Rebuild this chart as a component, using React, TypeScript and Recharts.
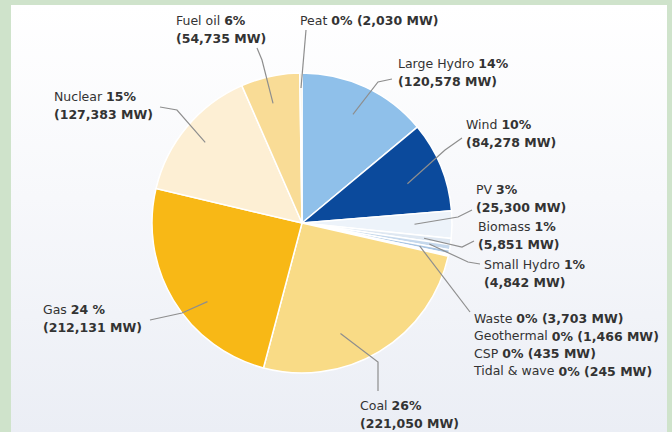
import { PieChart, Pie, Cell } from "recharts";

// installed capacity by source, clockwise from 12 o'clock
const SOURCES = [
  "Large Hydro",
  "Wind",
  "PV",
  "Biomass",
  "Small Hydro",
  "Waste",
  "Geothermal",
  "CSP",
  "Tidal & wave",
  "Coal",
  "Gas",
  "Nuclear",
  "Fuel oil",
  "Peat",
];
const CAPACITY_MW = [120578, 84278, 25300, 5851, 4842, 3703, 1466, 435, 245, 221050, 212131, 127383, 54735, 2030];
const SHARES = ["14%", "10%", "3%", "1%", "1%", "0%", "0%", "0%", "0%", "26%", "24 %", "15%", "6%", "0%"];
const COLORS = [
  "#8fc0ea",
  "#0b4a9c",
  "#edf3fa",
  "#dfe8f2",
  "#c5d8ec",
  "#a8c4e2",
  "#85acd6",
  "#6092c9",
  "#3a72b6",
  "#f9db86",
  "#f8b816",
  "#fdefd4",
  "#f9dc96",
  "#efe4c8",
];

const data = SOURCES.map((name, i) => ({ name, value: CAPACITY_MW[i], share: SHARES[i] }));

type Layout = {
  t: number; // where along the slice the leader starts (0..1)
  r: number; // radius fraction of the leader start
  path: [number, number][]; // leader points, relative to pie centre
  text: [number, number]; // first text line, relative to pie centre
  oneLine?: boolean;
  group?: string[];
};

const LABEL_LAYOUT: Record<string, Layout> = {
  "Large Hydro": { t: 0.5, r: 0.8, path: [[76, -141], [90, -144]], text: [96, -160] },
  Wind: { t: 0.55, r: 0.75, path: [[143, -73], [160, -85]], text: [164, -99] },
  PV: { t: 0.5, r: 0.75, path: [[156, -6], [170, -13]], text: [174, -34] },
  Biomass: { t: 0.5, r: 0.82, path: [[160, 24], [172, 18]], text: [176, 3] },
  "Small Hydro": { t: 0.5, r: 0.86, path: [[166, 39], [178, 41]], text: [182, 41] },
  Waste: {
    t: 0.5,
    r: 0.8,
    path: [[168, 89]],
    text: [172, 95],
    oneLine: true,
    group: ["Waste", "Geothermal", "CSP", "Tidal & wave"],
  },
  Coal: { t: 0.63, r: 0.78, path: [[76, 139], [76, 168]], text: [58, 182] },
  Gas: { t: 0.4, r: 0.82, path: [[-120, 90], [-152, 97]], text: [-259, 86] },
  Nuclear: { t: 0.5, r: 0.84, path: [[-125, -113], [-142, -116]], text: [-248, -127] },
  "Fuel oil": { t: 0.44, r: 0.82, path: [[-40, -163], [-45, -175]], text: [-126, -203] },
  Peat: { t: 0.5, r: 0.9, path: [[4, -193]], text: [-2, -203], oneLine: true },
};

const FONT = '"DejaVu Sans", sans-serif';
const FONT_SIZE = 12.5;
const LINE_H = 18.5;
const GROUP_LINE_H = 17.5;
const RAD = Math.PI / 180;

const mw = (i: number) => `(${CAPACITY_MW[i].toLocaleString("en-US")} MW)`;

function renderLabel(props: any) {
  const { cx, cy, outerRadius, startAngle, endAngle, midAngle, name } = props;
  const lay = LABEL_LAYOUT[name];
  if (!lay) return null;
  const ang =
    startAngle != null && endAngle != null ? startAngle + lay.t * (endAngle - startAngle) : midAngle;
  const sx = cx + outerRadius * lay.r * Math.cos(-ang * RAD);
  const sy = cy + outerRadius * lay.r * Math.sin(-ang * RAD);
  const pts = [[sx, sy], ...lay.path.map(([dx, dy]) => [cx + dx, cy + dy])];
  const tx = cx + lay.text[0];
  const ty = cy + lay.text[1];
  const idx = SOURCES.indexOf(name);

  const textProps = {
    fontFamily: FONT,
    fontSize: FONT_SIZE,
    fill: "#333",
    dominantBaseline: "central" as const,
    textAnchor: "start" as const,
  };

  let lines;
  if (lay.group) {
    lines = lay.group.map((g, k) => {
      const gi = SOURCES.indexOf(g);
      return (
        <text key={g} x={tx} y={ty + k * GROUP_LINE_H} {...textProps}>
          {g + " "}
          <tspan fontWeight="bold">{`${SHARES[gi]} ${mw(gi)}`}</tspan>
        </text>
      );
    });
  } else if (lay.oneLine) {
    lines = (
      <text x={tx} y={ty} {...textProps}>
        {name + " "}
        <tspan fontWeight="bold">{`${SHARES[idx]} ${mw(idx)}`}</tspan>
      </text>
    );
  } else {
    lines = (
      <>
        <text x={tx} y={ty} {...textProps}>
          {name + " "}
          <tspan fontWeight="bold">{SHARES[idx]}</tspan>
        </text>
        <text x={tx} y={ty + LINE_H} {...textProps} fontWeight="bold">
          {mw(idx)}
        </text>
      </>
    );
  }

  return (
    <g>
      <polyline
        points={pts.map((p) => p.join(",")).join(" ")}
        fill="none"
        stroke="#8e8e8e"
        strokeWidth={1.2}
      />
      {lines}
    </g>
  );
}

export default function App() {
  return (
    <div
      style={{
        position: "fixed",
        left: 0,
        top: 0,
        width: 672,
        height: 432,
        background: "#cfe3cb",
        overflow: "hidden",
      }}
    >
      <div
        style={{
          position: "absolute",
          left: 11,
          top: 5,
          width: 656,
          height: 427,
          background: "linear-gradient(180deg, #ffffff 0%, #f7f8fb 45%, #ebeef5 100%)",
        }}
      />
      <div style={{ position: "absolute", left: 0, top: 0 }}>
        <PieChart width={672} height={432} margin={{ top: 0, right: 0, bottom: 0, left: 0 }}>
          <Pie
            data={data}
            dataKey="value"
            nameKey="name"
            cx={302}
            cy={223}
            outerRadius={150}
            startAngle={90}
            endAngle={-270}
            stroke="#ffffff"
            strokeWidth={1.5}
            label={renderLabel}
            labelLine={false}
            isAnimationActive={false}
          >
            {data.map((d, i) => (
              <Cell key={d.name} fill={COLORS[i]} />
            ))}
          </Pie>
        </PieChart>
      </div>
    </div>
  );
}
